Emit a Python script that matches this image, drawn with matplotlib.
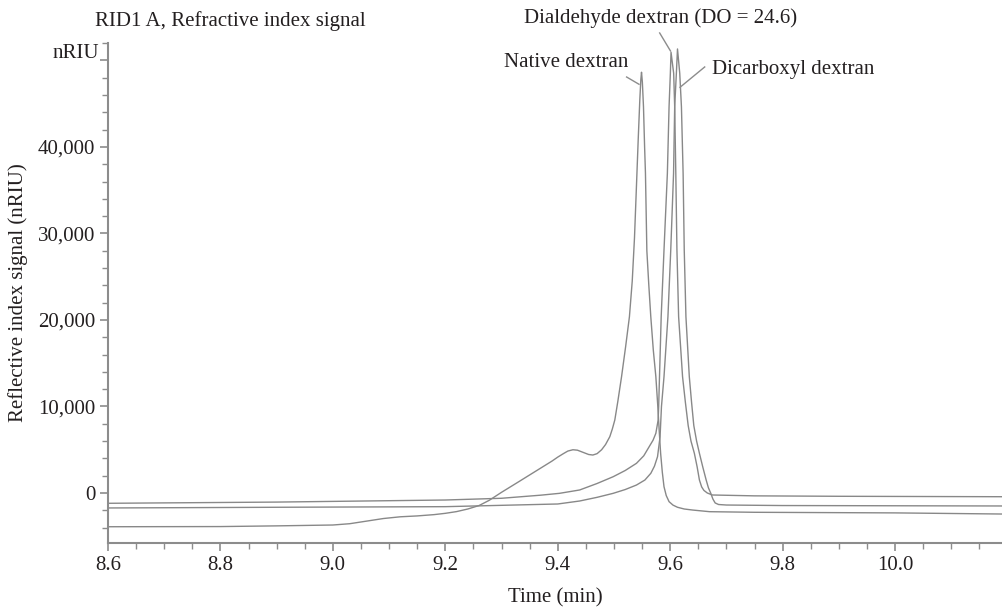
import matplotlib
matplotlib.use("Agg")
import matplotlib.pyplot as plt
from matplotlib.ticker import MultipleLocator, FuncFormatter

plt.rcParams['font.family'] = ['Liberation Serif', 'DejaVu Serif']

# Native dextran trace (time in min, signal in nRIU)
native_t = [8.60, 8.80, 8.90, 9.00, 9.03, 9.06, 9.09, 9.12, 9.15, 9.18, 9.20,
            9.22, 9.24, 9.26, 9.278, 9.30, 9.33, 9.36, 9.39, 9.40, 9.41, 9.418,
            9.427, 9.435, 9.445, 9.455, 9.4625, 9.470, 9.478, 9.485, 9.4926,
            9.4971, 9.5015, 9.5069, 9.5135, 9.5207, 9.5275, 9.5325, 9.5365,
            9.5403, 9.5432, 9.5460, 9.5478, 9.549, 9.5505, 9.5525, 9.5545,
            9.556, 9.5585, 9.562, 9.5655, 9.570, 9.5745, 9.578, 9.5804, 9.583,
            9.586, 9.589, 9.593, 9.598, 9.605, 9.613, 9.625, 9.64, 9.67, 9.75,
            10.0, 10.19]
native_s = [-3900, -3880, -3800, -3700, -3550, -3250, -2950, -2750, -2650, -2500, -2350,
            -2150, -1850, -1450, -850, 80, 1280, 2490, 3700, 4150, 4550, 4850,
            5000, 4950, 4700, 4450, 4390, 4550, 5000, 5600, 6510,
            7400, 8440, 10600, 13450, 16900, 20380, 24500, 29500,
            36000, 41000, 45500, 47800, 48640, 47500, 44660, 40000,
            37000, 28000, 24000, 20380, 16500, 13450, 10000, 7280, 4590,
            2400, 730, -300, -1000, -1400, -1650, -1850, -1970, -2160, -2230,
            -2300, -2430]

# Dialdehyde dextran (DO = 24.6)
dial_t = [8.60, 8.90, 9.20, 9.30, 9.37, 9.403, 9.439, 9.47, 9.4985, 9.52, 9.54,
          9.553, 9.5626, 9.5695, 9.5745, 9.5786, 9.5795, 9.581, 9.584, 9.589,
          9.595, 9.598, 9.6003, 9.6015, 9.6062, 9.608, 9.610, 9.612, 9.615,
          9.622, 9.627, 9.632, 9.637, 9.643, 9.648, 9.652, 9.656, 9.660, 9.666,
          9.675, 9.75, 9.90, 10.19]
dial_s = [-1190, -1050, -810, -610, -250, -40, 350, 1100, 1880, 2600, 3430,
          4300, 5350, 6100, 6900, 8440, 10000, 13450, 20380, 28090,
          36960, 44660, 48520, 50950, 48520, 44660, 36960, 28090, 20380,
          13450, 10500, 7800, 6000, 4590, 3000, 1500, 700, 300, 0,
          -230, -330, -380, -430]

# Dicarboxyl dextran
dicarb_t = [8.60, 8.90, 9.20, 9.40, 9.439, 9.47, 9.4985, 9.52, 9.54, 9.555,
            9.5656, 9.572, 9.5775, 9.582, 9.5845, 9.589, 9.596, 9.601, 9.606,
            9.608, 9.611, 9.613, 9.617, 9.620, 9.623, 9.625, 9.628, 9.634,
            9.638, 9.642, 9.647, 9.652, 9.658, 9.664, 9.668, 9.672, 9.676,
            9.680, 9.686, 9.70, 9.80, 10.19]
dicarb_s = [-1730, -1650, -1580, -1270, -925, -500, -40, 400, 920, 1500,
            2280, 3100, 4200, 6510, 10000, 13450, 20380, 28090, 36960,
            44660, 48520, 51330, 48520, 44660, 36960, 28090, 20380, 13450,
            10500, 7800, 6000, 4590, 3000, 1500, 600, 0, -700,
            -1150, -1330, -1390, -1450, -1500]

line_col = '#888888'
axis_col = '#8c8c8c'
text_col = '#231f20'
fs = 15

fig = plt.figure(figsize=(10.03, 6.08), dpi=100)
ax = fig.add_axes([108 / 1003, 65 / 608, 895 / 1003, 500 / 608])

for t, s in [(native_t, native_s), (dial_t, dial_s), (dicarb_t, dicarb_s)]:
    ax.plot(t, s, color=line_col, lw=1.0)

ax.set_xlim(8.6, 10.192)
ax.set_ylim(-5780, 52020)

ax.xaxis.set_major_locator(MultipleLocator(0.2))
ax.xaxis.set_minor_locator(MultipleLocator(0.05))
ax.xaxis.set_major_formatter(FuncFormatter(lambda v, p: f"{v:.1f}"))
ax.yaxis.set_major_locator(MultipleLocator(10000))
ax.yaxis.set_minor_locator(MultipleLocator(2000))
ax.yaxis.set_major_formatter(
    FuncFormatter(lambda v, p: f"{v:,.0f}" if -1 < v < 45000 else ""))

for side in ['top', 'right']:
    ax.spines[side].set_visible(False)
for side in ['left', 'bottom']:
    ax.spines[side].set_color(axis_col)
    ax.spines[side].set_linewidth(1.5)

ax.tick_params(which='both', colors=axis_col, labelcolor=text_col,
               labelsize=fs, direction='out')
ax.tick_params(which='major', length=6, width=1.2, pad=3)
ax.tick_params(which='minor', length=4, width=1.0)

ax.set_xlabel("Time (min)", fontsize=fs, color=text_col, labelpad=10)
ax.set_ylabel("Reflective index signal (nRIU)", fontsize=fs, color=text_col,
              labelpad=7)

fig.text(95 / 1003, 1 - 21 / 608, "RID1 A, Refractive index signal",
         fontsize=fs, color=text_col, ha='left', va='center')
fig.text(99 / 1003, 1 - 53 / 608, "nRIU", fontsize=fs, color=text_col,
         ha='right', va='center')

# peak labels with leader lines
ax.text(9.4157, 49710, "Native dextran", fontsize=fs, color=text_col,
        ha='center', va='center')
ax.plot([9.5225, 9.5445], [48090, 47250], color=axis_col, lw=1.0, clip_on=False)

ax.text(9.5822, 54910, "Dialdehyde dextran (DO = 24.6)", fontsize=fs,
        color=text_col, ha='center', va='center', clip_on=False)
ax.plot([9.5813, 9.6005], [53180, 51100], color=axis_col, lw=1.0, clip_on=False)

ax.text(9.6739, 48900, "Dicarboxyl dextran", fontsize=fs, color=text_col,
        ha='left', va='center')
ax.plot([9.6614, 9.6175], [49250, 46900], color=axis_col, lw=1.0, clip_on=False)

fig.savefig("out.png", dpi=100)
